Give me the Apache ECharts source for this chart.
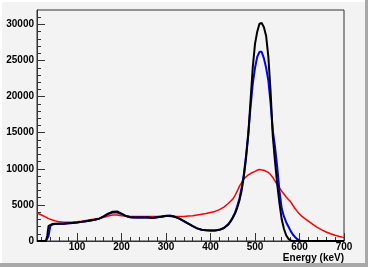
<!DOCTYPE html>
<html>
<head>
<meta charset="utf-8">
<script src="https://cdn.jsdelivr.net/npm/echarts@6/dist/echarts.min.js"></script>
<style>
html,body{margin:0;padding:0;background:#f3f3f3;}
#chart{width:368px;height:267px;}
</style>
</head>
<body>
<div id="chart"></div>
<script>
const energy = [10,20,30,33,36,40,45,
  50,60,70,80,90,100,110,120,130,140,150,160,170,180,190,200,210,220,230,240,250,260,270,280,290,300,310,320,330,340,350,360,370,380,390,400,410,420,430,440,
  445,450,455,460,465,470,475,480,485,490,495,500,505,510,515,520,525,530,535,540,545,550,555,560,565,570,575,580,585,590,595,600,605,610,
  620,630,640,650,660,670,680,690,700];

const blackCounts = [0,0,0,700,2100,2300,2350,
  2400,2400,2400,2450,2500,2550,2650,2750,2850,2950,3100,3400,3800,4050,4100,3800,3450,3300,3250,3250,3250,3250,3200,3300,3350,3500,3500,3350,3100,2750,2400,2050,1750,1550,1480,1450,1450,1550,1800,2300,
  2700,3200,3800,4600,5600,7000,9000,11600,14800,19500,24100,27300,29000,30100,30200,29600,28400,25500,20700,14500,11000,7800,5200,3000,1700,800,300,80,0,0,0,0,0,0,
  0,0,0,0,0,0,0,0,0];

const blueCounts = [0,0,0,0,700,2100,2300,
  2350,2400,2400,2450,2500,2550,2650,2750,2850,2950,3100,3400,3750,3950,3950,3750,3450,3300,3250,3250,3250,3250,3200,3300,3350,3450,3500,3350,3100,2750,2400,2050,1750,1550,1500,1450,1450,1550,1800,2300,
  2750,3300,3900,4800,5900,7400,9300,11900,15000,18600,21800,24000,25500,26200,26200,25300,24000,22200,19100,15300,13000,10200,6900,4500,3400,2600,2000,1400,900,550,250,80,0,0,
  0,0,0,0,0,0,0,0,0];

const redCounts = [3900,3600,3300,3200,3100,3000,2900,
  2800,2650,2600,2600,2620,2680,2750,2850,2950,3050,3150,3300,3450,3600,3600,3500,3450,3400,3400,3400,3400,3400,3400,3400,3450,3450,3400,3400,3400,3400,3450,3500,3600,3700,3800,3950,4100,4350,4700,5200,
  5500,5800,6300,6900,7600,8100,8600,8900,9150,9350,9500,9650,9800,9900,9850,9800,9650,9500,9200,8800,8300,7800,7350,6900,6500,6100,5750,5450,4950,4500,4100,3750,3450,3200,
  2750,2300,1900,1550,1250,1000,800,620,470];

const xMajorTicks = [100,200,300,400,500,600,700];
const xMinorTicks = [20,40,60,80,120,140,160,180,220,240,260,280,320,340,360,380,420,440,460,480,520,540,560,580,620,640,660,680];
const yMajorTicks = [0,5000,10000,15000,20000,25000,30000];
const yMinorTicks = [1000,2000,3000,4000,6000,7000,8000,9000,11000,12000,13000,14000,16000,17000,18000,19000,21000,22000,23000,24000,26000,27000,28000,29000,31000];
const xTitle = 'Energy (keV)';

const pairs = vals => energy.map((e, i) => [e, vals[i]]);
const labelFont = {fontFamily:'Liberation Sans', fontWeight:'bold', fontSize:10, color:'#000'};

const chart = echarts.init(document.getElementById('chart'), null, {renderer:'canvas'});
chart.setOption({
  animation: false,
  backgroundColor: '#f3f3f3',
  graphic: [
    {type:'rect', shape:{x:0,y:0,width:368,height:2}, style:{fill:'#ffffff'}, silent:true},
    {type:'rect', shape:{x:0,y:0,width:2,height:267}, style:{fill:'#ffffff'}, silent:true},
    {type:'rect', shape:{x:365,y:0,width:3,height:267}, style:{fill:'#a8a8a8'}, silent:true},
    {type:'rect', shape:{x:0,y:263,width:368,height:4}, style:{fill:'#a8a8a8'}, silent:true}
  ],
  grid: {left:37, right:24, top:10, bottom:26, containLabel:false, outerBoundsMode:'none',
         show:true, borderColor:'#333', borderWidth:1, backgroundColor:'#f3f3f3'},
  xAxis: [
    {type:'value', min:10, max:700,
     axisLine:{lineStyle:{color:'#333'}},
     axisTick:{inside:true, length:8, lineStyle:{color:'#333'}, customValues:xMajorTicks},
     axisLabel:{margin:1, customValues:xMajorTicks, ...labelFont},
     splitLine:{show:false},
     name:xTitle, nameLocation:'end', nameGap:0,
     nameTextStyle:{...labelFont, align:'right', verticalAlign:'top', padding:[12,0,0,0]}},
    {type:'value', min:10, max:700, position:'bottom',
     axisLine:{show:false},
     axisTick:{inside:true, length:4, lineStyle:{color:'#333'}, customValues:xMinorTicks},
     axisLabel:{show:false}, splitLine:{show:false}}
  ],
  yAxis: [
    {type:'value', min:0, max:32000,
     axisLine:{show:true, lineStyle:{color:'#333'}},
     axisTick:{show:true, inside:true, length:8, lineStyle:{color:'#333'}, customValues:yMajorTicks},
     axisLabel:{margin:3, customValues:yMajorTicks, formatter: v => String(v), ...labelFont},
     splitLine:{show:false}},
    {type:'value', min:0, max:32000, position:'left',
     axisLine:{show:false},
     axisTick:{show:true, inside:true, length:4, lineStyle:{color:'#333'}, customValues:yMinorTicks},
     axisLabel:{show:false}, splitLine:{show:false}}
  ],
  series: [
    {type:'line', name:'red', data:pairs(redCounts), showSymbol:false, lineStyle:{color:'#ff0000', width:1.5}, itemStyle:{color:'#ff0000'}},
    {type:'line', name:'blue', data:pairs(blueCounts), showSymbol:false, lineStyle:{color:'#0000ff', width:2}, itemStyle:{color:'#0000ff'}},
    {type:'line', name:'black', data:pairs(blackCounts), showSymbol:false, lineStyle:{color:'#000000', width:2}, itemStyle:{color:'#000000'}}
  ]
});
</script>
</body>
</html>
